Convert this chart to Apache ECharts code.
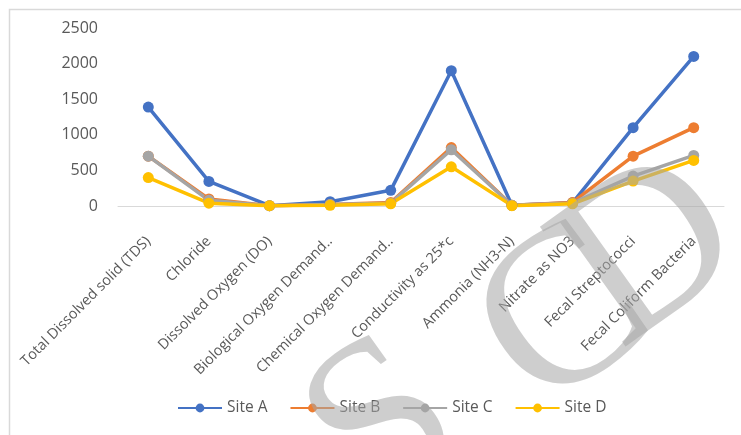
<!DOCTYPE html>
<html>
<head>
<meta charset="utf-8">
<script src="https://cdn.jsdelivr.net/npm/echarts@6/dist/echarts.min.js"></script>
<style>
  html, body { margin: 0; padding: 0; background: #ffffff; }
  #chart { width: 741px; height: 435px; }
</style>
</head>
<body>
<div id="chart"></div>
<script>
// Water quality parameters by site
const categories = [
  'Total Dissolved solid (TDS)',
  'Chloride',
  'Dissolved Oxygen (DO)',
  'Biological Oxygen Demand..',
  'Chemical Oxygen Demand..',
  'Conductivity as 25*c',
  'Ammonia (NH3-N)',
  'Nitrate as NO3',
  'Fecal Streptococci',
  'Fecal Coliform Bacteria'
];
const siteA = [1390, 345, 5, 60, 220, 1900, 10, 45, 1100, 2100];
const siteB = [700, 100, 5, 20, 50, 820, 10, 50, 700, 1100];
const siteC = [700, 80, 5, 20, 40, 790, 10, 40, 420, 710];
const siteD = [400, 40, 5, 10, 30, 550, 5, 30, 350, 640];
const yTicks = [0, 500, 1000, 1500, 2000, 2500];

const seriesDefs = [
  { name: 'Site A', data: siteA, color: '#4472C4' },
  { name: 'Site B', data: siteB, color: '#ED7D31' },
  { name: 'Site C', data: siteC, color: '#A5A5A5' },
  { name: 'Site D', data: siteD, color: '#FFC000' }
];

// Watermark letters, placed individually along a slanted baseline
const markLetters = [
  { ch: 'S', x: 385, y: 428 },
  { ch: 'C', x: 566, y: 322 },
  { ch: 'D', x: 652, y: 255 }
];

const chart = echarts.init(document.getElementById('chart'), null, { renderer: 'canvas' });

chart.setOption({
  animation: false,
  backgroundColor: '#ffffff',
  textStyle: { fontFamily: 'Open Sans, Liberation Sans, sans-serif' },
  grid: { left: 118, right: 17, top: 28, bottom: 229, containLabel: false },
  legend: {
    top: 395,
    left: 172,
    itemWidth: 44,
    itemHeight: 11,
    itemGap: 22,
    textStyle: { color: '#595959', fontSize: 15.5, padding: [0, 0, 0, 0] },
    data: seriesDefs.map(s => s.name)
  },
  xAxis: {
    type: 'category',
    data: categories,
    boundaryGap: true,
    axisLine: { show: true, lineStyle: { color: '#d9d9d9', width: 1 } },
    axisTick: { show: false },
    axisLabel: {
      rotate: 45,
      interval: 0,
      margin: 33,
      color: '#595959',
      fontSize: 14.5
    }
  },
  yAxis: {
    type: 'value',
    min: yTicks[0],
    max: yTicks[yTicks.length - 1],
    interval: 500,
    axisLine: { show: false },
    axisTick: { show: false },
    splitLine: { show: false },
    axisLabel: {
      color: '#595959',
      fontSize: 16,
      margin: 20,
      formatter: v => String(v)
    }
  },
  series: seriesDefs.map(s => ({
    name: s.name,
    type: 'line',
    data: s.data,
    symbol: 'circle',
    symbolSize: 11,
    lineStyle: { color: s.color, width: 3.5 },
    itemStyle: { color: s.color }
  })),
  graphic: [
    {
      type: 'rect',
      left: 7, top: 7,
      shape: { width: 760, height: 460 },
      style: { fill: 'none', stroke: '#d9d9d9', lineWidth: 1.5 },
      silent: true,
      z: -10
    }
  ].concat(markLetters.map(m => ({
    type: 'text',
    x: m.x, y: m.y,
    rotation: 0.62,
    style: {
      text: m.ch,
      font: '225px "Liberation Serif", "DejaVu Serif", serif',
      fill: 'rgba(165,165,165,0.55)',
      align: 'center',
      verticalAlign: 'middle'
    },
    silent: true,
    z: 100
  })))
});
</script>
</body>
</html>
